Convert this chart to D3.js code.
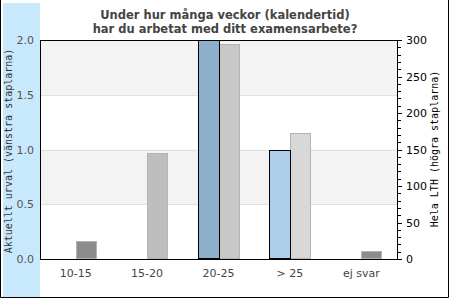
<!DOCTYPE html>
<html>
<head>
<meta charset="utf-8">
<script src="https://cdn.jsdelivr.net/npm/d3@7"></script>
<style>
body { margin: 0; background: #fff; }
text { font-family: "DejaVu Sans", sans-serif; }
</style>
</head>
<body>
<div id="chart"></div>
<script>
// data
var categories = ["10-15", "15-20", "20-25", "> 25", "ej svar"];
var urval = [0, 0, 2, 1, 0];          // left axis
var helaLTH = [24, 145, 295, 173, 11]; // right axis
var urvalColors = ["#8fb0cc", "#8fb0cc", "#8fb0cc", "#aecde8", "#8fb0cc"];
var lthColors = ["#8c8c8c", "#bebebe", "#c8c8c8", "#d8d8d8", "#8c8c8c"];
var leftTicks = [0, 0.5, 1, 1.5, 2];
var rightTicks = [0, 50, 100, 150, 200, 250, 300];

var width = 450, height = 300;
var plotLeft = 40, plotRight = 397, plotTop = 40, plotBottom = 259;
var barW = 21;

var svg = d3.select("#chart").append("svg")
    .attr("width", width)
    .attr("height", height);

// blue panel behind left axis
svg.append("rect")
    .attr("x", 3).attr("y", 3)
    .attr("width", plotLeft - 3).attr("height", 294)
    .attr("fill", "#c8e8fc");

// outer frame (left, right, bottom)
svg.append("path")
    .attr("d", "M0.5,0V297.5H448.5V0")
    .attr("fill", "none")
    .attr("stroke", "#000");

var x = d3.scaleBand().domain(categories).range([plotLeft, plotRight]);
var yL = d3.scaleLinear().domain([0, 2]).range([plotBottom, plotTop]);
var yR = d3.scaleLinear().domain([0, 300]).range([plotBottom, plotTop]);

// alternating background bands
var bands = [[1.5, 2], [0.5, 1]];
svg.selectAll(".band")
    .data(bands)
    .enter().append("rect")
    .attr("x", plotLeft)
    .attr("y", function (d) { return yL(d[1]); })
    .attr("width", plotRight - plotLeft)
    .attr("height", function (d) { return yL(d[0]) - yL(d[1]); })
    .attr("fill", "#f3f3f3");

svg.selectAll(".grid")
    .data([0.5, 1, 1.5])
    .enter().append("line")
    .attr("x1", plotLeft).attr("x2", plotRight)
    .attr("y1", function (d) { return Math.round(yL(d)) + 0.5; })
    .attr("y2", function (d) { return Math.round(yL(d)) + 0.5; })
    .attr("stroke", "#e0e0e0");

// right bars (Hela LTH)
svg.selectAll(".lth")
    .data(helaLTH)
    .enter().append("rect")
    .attr("x", function (d, i) { return Math.round(x(categories[i]) + x.bandwidth() / 2) + 0.5; })
    .attr("y", function (d) { return Math.round(yR(d)) + 0.5; })
    .attr("width", barW - 1)
    .attr("height", function (d) { return Math.max(0, plotBottom - Math.round(yR(d)) - 1); })
    .attr("fill", function (d, i) { return lthColors[i]; })
    .attr("stroke", "#b4b4b4");

// left bars (Aktuellt urval)
svg.selectAll(".urval")
    .data(urval.map(function (v, i) { return {v: v, i: i}; }).filter(function (d) { return d.v > 0; }))
    .enter().append("rect")
    .attr("x", function (d) { return Math.round(x(categories[d.i]) + x.bandwidth() / 2) - barW + 0.5; })
    .attr("y", function (d) { return Math.round(yL(d.v)) + 0.5; })
    .attr("width", barW)
    .attr("height", function (d) { return plotBottom - Math.round(yL(d.v)) - 1; })
    .attr("fill", function (d) { return urvalColors[d.i]; })
    .attr("stroke", "#000");

// plot frame
svg.append("rect")
    .attr("x", plotLeft + 0.5).attr("y", plotTop + 0.5)
    .attr("width", plotRight - plotLeft).attr("height", plotBottom - plotTop)
    .attr("fill", "none")
    .attr("stroke", "#000");

// left tick labels
svg.selectAll(".ltick")
    .data(leftTicks)
    .enter().append("text")
    .attr("x", 34)
    .attr("y", function (d) { return yL(d) + 4; })
    .attr("text-anchor", "end")
    .attr("font-size", "11px")
    .attr("fill", "#555")
    .text(function (d) { return d3.format(".1f")(d); });

// right ticks
svg.selectAll(".rminor")
    .data(d3.range(0, 301, 10))
    .enter().append("line")
    .attr("x1", plotRight).attr("x2", function (d) { return d % 50 === 0 ? plotRight + 5 : plotRight + 4; })
    .attr("y1", function (d) { return Math.round(yR(d)) + 0.5; })
    .attr("y2", function (d) { return Math.round(yR(d)) + 0.5; })
    .attr("stroke", "#000");

svg.selectAll(".rtick")
    .data(rightTicks)
    .enter().append("text")
    .attr("x", 406)
    .attr("y", function (d) { return yR(d) + 4; })
    .attr("font-size", "11px")
    .attr("fill", "#000")
    .text(function (d) { return d; });

// category labels
svg.selectAll(".cat")
    .data(categories)
    .enter().append("text")
    .attr("x", function (d) { return x(d) + x.bandwidth() / 2; })
    .attr("y", 277)
    .attr("text-anchor", "middle")
    .attr("font-size", "11px")
    .attr("fill", "#444")
    .text(function (d) { return d; });

// title
var title = ["Under hur många veckor (kalendertid)", "har du arbetat med ditt examensarbete?"];
svg.selectAll(".title")
    .data(title)
    .enter().append("text")
    .attr("x", 225)
    .attr("y", function (d, i) { return 19 + i * 14; })
    .attr("text-anchor", "middle")
    .attr("font-size", "11.5px")
    .attr("font-weight", "bold")
    .attr("fill", "#444")
    .text(function (d) { return d; });

// axis titles
svg.append("text")
    .attr("transform", "translate(12,151) rotate(-90)")
    .attr("text-anchor", "middle")
    .style("font-family", "'DejaVu Sans Mono', monospace")
    .attr("font-size", "10px")
    .attr("fill", "#333")
    .text("Aktuellt urval (vänstra staplarna)");

svg.append("text")
    .attr("transform", "translate(438,149) rotate(-90)")
    .attr("text-anchor", "middle")
    .style("font-family", "'DejaVu Sans Mono', monospace")
    .attr("font-size", "10px")
    .attr("fill", "#000")
    .text("Hela LTH (högra staplarna)");
</script>
</body>
</html>
